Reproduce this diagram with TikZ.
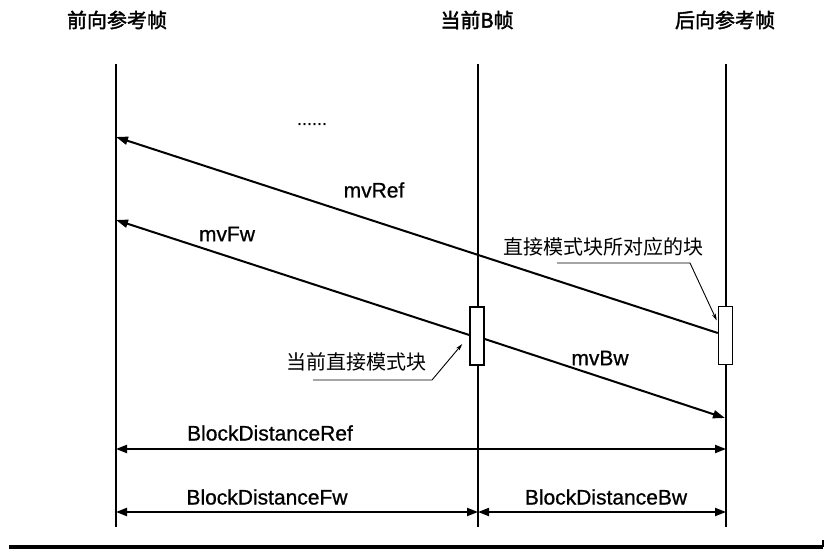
\documentclass[tikz,border=0pt]{standalone}
\usepackage{fontspec}
\setmainfont{Liberation Sans}
\newfontfamily\latb[FakeBold=0.8]{Liberation Sans}
\newfontfamily\cjk{Noto Sans CJK SC}
\newfontfamily\cjkb[FakeBold=2]{Noto Sans CJK SC}
\usetikzlibrary{arrows.meta,calc}
\begin{document}
\begin{tikzpicture}[x=1pt,y=-1pt,
  framel/.style={line width=2.8pt},
  mv/.style={line width=2pt,-{Triangle[length=12pt,width=8pt]}},
  dimarr/.style={line width=2pt,{Triangle[length=11pt,width=8pt]}-{Triangle[length=11pt,width=8pt]}},
  blk/.style={draw,line width=1.5pt,fill=white,minimum width=14pt,minimum height=58pt,inner sep=0pt},
  ttl/.style={font=\cjkb\fontsize{20}{24}\selectfont,inner sep=0pt},
  lbl/.style={font=\latb\fontsize{21}{25}\selectfont,inner sep=0pt},
  cnl/.style={font=\cjk\fontsize{20}{24}\selectfont,inner sep=0pt},
  lead/.style={line width=0.9pt,-{Stealth[length=7pt,width=4pt]}}]
\useasboundingbox (0,0) rectangle (826,553);

% titles
\node[ttl] (t1) at (117,20) {前向参考帧};
\node[ttl] (t2) at (477,20) {当前B帧};
\node[ttl] (t3) at (725,20) {后向参考帧};

% frame lines
\coordinate (f1t) at (116,64);  \coordinate (f1b) at (116,527);
\coordinate (f2t) at (478,64);  \coordinate (f2b) at (478,527);
\coordinate (f3t) at (726,64);  \coordinate (f3b) at (726,527);
\draw[framel] (f1t) -- (f1b);
\draw[framel] (f2t) -- (f2b);
\draw[framel] (f3t) -- (f3b);

% blocks
\node[blk] (mb) at (477,336) {};
\node[blk] (rb) at (725.5,335.5) {};

% motion vectors
\coordinate (aref) at (116,137);
\coordinate (afw) at (116,220);
\coordinate (abw) at (725,418);
\draw[mv] ($(rb.west)+(0,-2.5)$) -- (aref);
\draw[mv] ($(mb.west)+(0,-1)$) -- (afw);
\draw[mv] ($(mb.east)+(0,3)$) -- (abw);

\node[lbl] (lref) at (374,190) {mvRef};
\node[lbl] (lfw) at (227,234) {mvFw};
\node[lbl] (lbw) at (600,358) {mvBw};

\node[font=\latb\fontsize{18}{20}\selectfont,inner sep=0pt,anchor=base] (dots) at (312,125) {......};

% leaders
\node[cnl] (n1) at (603,247) {直接模式块所对应的块};
\coordinate (n1a) at (557,263);
\coordinate (n1b) at (690,263);
\draw[lead] (n1a) -- (n1b) -- ($(rb.west)+(-1,-15)$);

\node[cnl] (n2) at (356,362) {当前直接模式块};
\coordinate (n2a) at (313,380);
\coordinate (n2b) at (432,380);
\draw[lead] (n2a) -- (n2b) -- ($(mb.west)+(-7,8)$);

% dimensions
\coordinate (d1a) at (116,449); \coordinate (d1b) at (726,449);
\coordinate (d2a) at (116,512); \coordinate (d2b) at (478,512);
\coordinate (d3b) at (726,512);
\draw[dimarr] (d1a) -- (d1b);
\draw[dimarr] (d2a) -- (d2b);
\draw[dimarr] (d2b) -- (d3b);
\node[lbl] (ldr) at (270,433) {BlockDistanceRef};
\node[lbl] (ldf) at (267,497) {BlockDistanceFw};
\node[lbl] (ldb) at (606,497) {BlockDistanceBw};

% bottom rule
\coordinate (bl) at (9,547); \coordinate (br) at (823,547); \coordinate (bt) at (823,540);
\draw[line width=3.5pt] (bl) -- (br);
\draw[line width=1.5pt] (br) -- (bt);
\end{tikzpicture}
\end{document}
